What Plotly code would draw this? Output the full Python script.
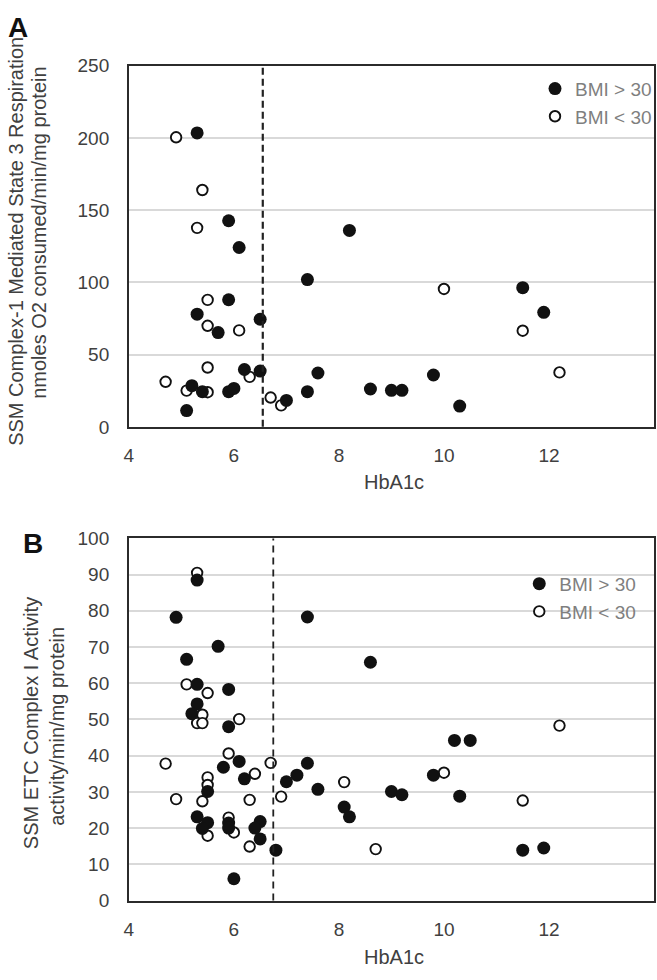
import plotly.graph_objects as go

W, H = 657, 980

# ---------------- data ----------------
# Panel A: SSM Complex-1 mediated state 3 respiration vs HbA1c
a_high_x = [5.3, 5.9, 6.1, 8.2, 7.4, 5.9, 5.3, 5.7, 6.5, 6.2, 6.5, 5.2, 5.4, 5.9, 6.0,
            5.1, 7.6, 7.4, 7.0, 8.6, 9.0, 9.2, 9.8, 10.3, 11.5, 11.9]
a_high_y = [203.5, 142.7, 124.2, 136, 102, 88, 78, 65.3, 74.5, 39.7, 38.6, 28.5, 24.4, 24.4, 26.6,
            11.3, 37.3, 24.4, 18.3, 26.2, 25.3, 25.3, 35.9, 14.4, 96.4, 79.3]
a_low_x = [4.9, 5.4, 5.3, 5.5, 5.5, 6.1, 5.5, 6.3, 4.7, 5.1, 5.5, 6.7, 6.9, 10.0, 11.5, 12.2]
a_low_y = [200.5, 164, 137.8, 87.9, 70, 66.8, 41.1, 34.6, 31.2, 25.1, 24, 20.3, 14.9, 95.5, 66.6, 37.7]
a_threshold = 6.55

# Panel B: SSM ETC Complex I activity vs HbA1c
b_high_x = [5.3, 4.9, 5.7, 5.1, 5.3, 5.9, 5.3, 5.2, 5.9, 6.1, 5.8, 7.4, 6.2, 7.0, 7.2, 5.5,
            7.6, 8.1, 8.2, 5.3, 5.5, 5.4, 5.9, 5.9, 6.5, 6.4, 6.5, 6.8, 6.0, 7.4, 8.6, 10.2,
            10.5, 9.8, 9.0, 9.2, 10.3, 11.5, 11.9]
b_high_y = [88.5, 78.2, 70.2, 66.6, 59.7, 58.3, 54.3, 51.6, 48.0, 38.4, 36.8, 37.9, 33.6, 32.8, 34.6, 30.1,
            30.7, 25.8, 23.1, 23.1, 21.5, 19.9, 21.4, 20.0, 21.8, 20.0, 17.0, 13.9, 6.0, 78.3, 65.8, 44.2,
            44.2, 34.6, 30.1, 29.2, 28.8, 13.9, 14.5]
b_low_x = [5.3, 5.1, 5.5, 5.4, 5.3, 5.4, 6.1, 5.9, 4.7, 6.7, 6.4, 5.5, 5.5, 4.9, 6.3, 6.9,
           5.4, 8.1, 5.5, 5.9, 6.0, 6.3, 12.2, 10.0, 11.5, 8.7]
b_low_y = [90.5, 59.7, 57.3, 51.3, 49.0, 49.0, 50.1, 40.6, 37.8, 38.0, 35.0, 34.0, 31.9, 28.0, 27.8, 28.7,
           27.4, 32.7, 17.9, 22.9, 18.8, 14.9, 48.3, 35.3, 27.6, 14.2]
b_threshold = 6.75

x_ticks = [4, 6, 8, 10, 12]
x_range = [4, 14]
a_range = [0, 250]
b_range = [0, 100]
label_high = "BMI > 30"
label_low = "BMI < 30"

# ---------------- style ----------------
FONT = "Liberation Sans, Arial, sans-serif"
TXT = "#404040"
AX = "#2b2b2b"
GRID = "#d9d9d9"
PT = "#111111"

def px_x(p):
    return p / W

def px_y(p):
    return 1 - p / H

fig = go.Figure()

def add_pair(xl, yl, xh, yh, xa, ya, leg):
    fig.add_trace(go.Scatter(x=xl, y=yl, mode="markers", name=label_low,
                             xaxis=xa, yaxis=ya, legend=leg,
                             marker=dict(size=10.5, color="white",
                                         line=dict(color=PT, width=1.9))))
    fig.add_trace(go.Scatter(x=xh, y=yh, mode="markers", name=label_high,
                             xaxis=xa, yaxis=ya, legend=leg,
                             marker=dict(size=13, color=PT, line=dict(width=0))))

add_pair(a_low_x, a_low_y, a_high_x, a_high_y, "x", "y", "legend")
add_pair(b_low_x, b_low_y, b_high_x, b_high_y, "x2", "y2", "legend2")

xdom = [px_x(125), px_x(655)]
common_x = dict(domain=xdom, range=x_range, tickvals=x_ticks, showgrid=False, zeroline=False,
                showline=True, mirror=True, linecolor=AX, linewidth=1.6,
                ticks="outside", ticklen=11, tickcolor="rgba(0,0,0,0)",
                tickfont=dict(family=FONT, size=19, color=TXT), fixedrange=True)
common_y = dict(showgrid=True, gridcolor=GRID, gridwidth=1.5, zeroline=False,
                showline=True, mirror=True, linecolor=AX, linewidth=1.6,
                ticks="outside", ticklen=14, tickcolor="rgba(0,0,0,0)",
                tickfont=dict(family=FONT, size=19, color=TXT), fixedrange=True)

leg_common = dict(bgcolor="rgba(0,0,0,0)", borderwidth=0, traceorder="reversed",
                  font=dict(family=FONT, size=19, color="#7f7f7f"),
                  xanchor="left", yanchor="top", itemwidth=30, tracegroupgap=0)

fig.update_layout(
    width=W, height=H,
    margin=dict(l=0, r=0, t=0, b=0),
    paper_bgcolor="white", plot_bgcolor="white",
    showlegend=True,
    xaxis=dict(common_x, anchor="y"),
    yaxis=dict(common_y, anchor="x", domain=[px_y(426), px_y(57)], range=a_range, dtick=50),
    xaxis2=dict(common_x, anchor="y2"),
    yaxis2=dict(common_y, anchor="x2", domain=[px_y(910), px_y(540)], range=b_range, dtick=10),
    legend=dict(leg_common, x=px_x(535), y=px_y(61)),
    legend2=dict(leg_common, x=px_x(519), y=px_y(567)),
)

# dashed HbA1c threshold lines
fig.add_shape(type="line", xref="x", yref="y domain", x0=a_threshold, x1=a_threshold, y0=0, y1=1,
              line=dict(color="#222222", width=2.2, dash="7px,4px"))
fig.add_shape(type="line", xref="x2", yref="y2 domain", x0=b_threshold, x1=b_threshold, y0=0, y1=1,
              line=dict(color="#222222", width=1.8, dash="7px,5px"))

annos = [
    # panel letters
    dict(text="<b>A</b>", x=px_x(13), y=px_y(18), font=dict(size=28, color="#111111")),
    dict(text="<b>B</b>", x=px_x(28), y=px_y(545), font=dict(size=28, color="#111111")),
    # y titles panel A
    dict(text="SSM Complex-1 Mediated State 3 Respiration", x=px_x(11), y=px_y(236),
         textangle=-90, font=dict(size=20, color=TXT)),
    dict(text="nmoles O2 consumed/min/mg protein", x=px_x(34), y=px_y(228),
         textangle=-90, font=dict(size=20, color=TXT)),
    # y titles panel B
    dict(text="SSM ETC Complex I Activity", x=px_x(27), y=px_y(729),
         textangle=-90, font=dict(size=20, color=TXT)),
    dict(text="activity/min/mg protein", x=px_x(53), y=px_y(732),
         textangle=-90, font=dict(size=20, color=TXT)),
    # x titles
    dict(text="HbA1c", x=px_x(393), y=px_y(482), font=dict(size=20, color=TXT)),
    dict(text="HbA1c", x=px_x(393), y=px_y(968), font=dict(size=20, color=TXT)),
]
for a in annos:
    a.setdefault("xref", "paper")
    a.setdefault("yref", "paper")
    a.setdefault("showarrow", False)
    a.setdefault("xanchor", "center")
    a.setdefault("yanchor", "middle")
    a["font"]["family"] = FONT
    fig.add_annotation(**a)

fig.write_html("out.html", config={"displayModeBar": False},
               post_script="document.body.style.margin='0px';document.body.style.overflow='hidden';")
